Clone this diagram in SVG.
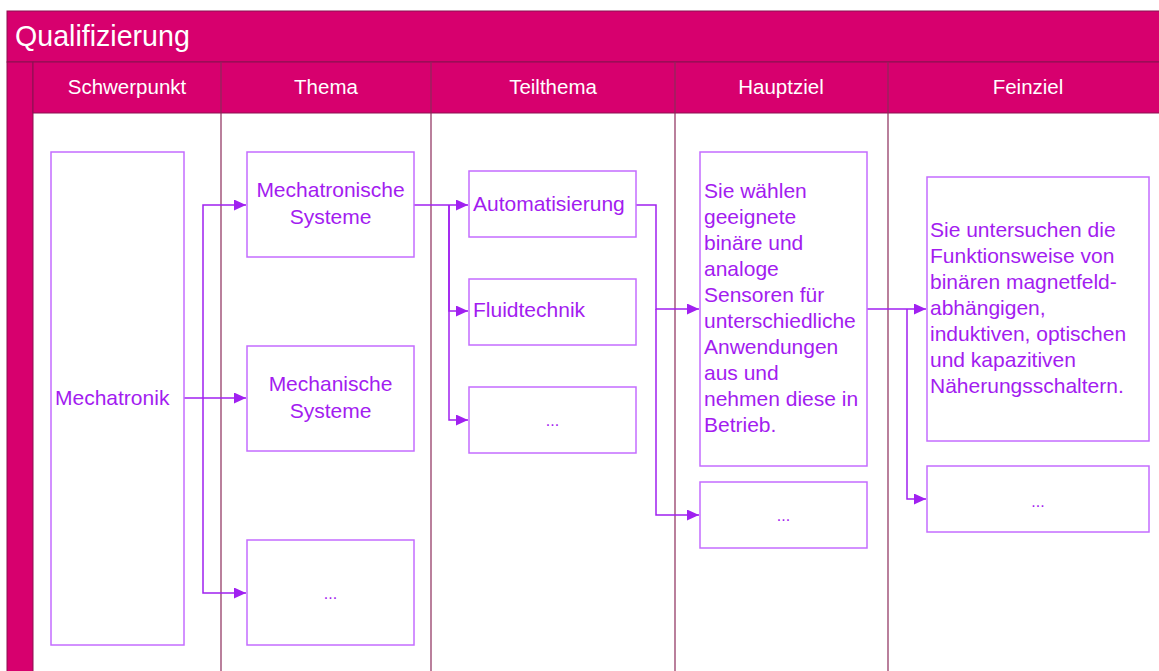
<svg xmlns="http://www.w3.org/2000/svg" width="1159" height="671" viewBox="0 0 1159 671">
<style>
.band{fill:#d7006e;stroke:#8a1050;stroke-width:1}
.div{stroke:#8b2a5a;stroke-width:1.2;fill:none}
.ttl{font-family:"Liberation Sans",Arial,sans-serif;font-size:28.6px;fill:#ffffff}
.hdr{font-family:"Liberation Sans",Arial,sans-serif;font-size:20.5px;fill:#ffffff;text-anchor:middle}
.box{fill:#ffffff;stroke:#c46cff;stroke-width:1.5}
.t{font-family:"Liberation Sans",Arial,sans-serif;font-size:21px;fill:#a31cf0}
.c{text-anchor:middle}
.dots{font-size:16px}
.con{fill:none;stroke:#a020f0;stroke-width:1.5}
</style>
<defs>
<marker id="ah" viewBox="0 0 12 11" refX="12" refY="5.5" markerWidth="12" markerHeight="11" markerUnits="userSpaceOnUse" orient="auto">
<path d="M0,0 L12,5.5 L0,11 z" fill="#a020f0"/>
</marker>
</defs>
<rect width="1159" height="671" fill="#ffffff"/>
<g id="frame">
<rect class="band" x="7" y="11" width="1160" height="51"/>
<rect class="band" x="7" y="62" width="26" height="620"/>
<rect class="band" x="33" y="62" width="1130" height="51"/>
<line class="div" x1="221" y1="62" x2="221" y2="671"/>
<line class="div" x1="431" y1="62" x2="431" y2="671"/>
<line class="div" x1="675" y1="62" x2="675" y2="671"/>
<line class="div" x1="888" y1="62" x2="888" y2="671"/>
<text class="ttl" x="15" y="46">Qualifizierung</text>
<text class="hdr" x="127" y="94">Schwerpunkt</text>
<text class="hdr" x="326" y="94">Thema</text>
<text class="hdr" x="553" y="94">Teilthema</text>
<text class="hdr" x="781" y="94">Hauptziel</text>
<text class="hdr" x="1028" y="94">Feinziel</text>
</g>
<g id="connectors">
<path class="con" d="M184,398 H246" marker-end="url(#ah)"/>
<path class="con" d="M203,398 V205 H246" marker-end="url(#ah)"/>
<path class="con" d="M203,398 V593 H246" marker-end="url(#ah)"/>
<path class="con" d="M414,205 H468" marker-end="url(#ah)"/>
<path class="con" d="M449,205 V311 H468" marker-end="url(#ah)"/>
<path class="con" d="M449,205 V420 H468" marker-end="url(#ah)"/>
<path class="con" d="M636,205 H656 V309 H699" marker-end="url(#ah)"/>
<path class="con" d="M656,309 V515 H699" marker-end="url(#ah)"/>
<path class="con" d="M867,309 H926" marker-end="url(#ah)"/>
<path class="con" d="M907,309 V499 H926" marker-end="url(#ah)"/>
</g>
<g id="n-mechatronik">
<rect class="box" x="51" y="152" width="133" height="493"/>
<text class="t" x="55" y="405">Mechatronik</text>
</g>
<g id="n-mechatronische-systeme">
<rect class="box" x="247" y="152" width="167" height="105"/>
<text class="t c" x="330.5" y="197">Mechatronische</text>
<text class="t c" x="330.5" y="224">Systeme</text>
</g>
<g id="n-mechanische-systeme">
<rect class="box" x="247" y="346" width="167" height="105"/>
<text class="t c" x="330.5" y="391">Mechanische</text>
<text class="t c" x="330.5" y="418">Systeme</text>
</g>
<g id="n-thema-more">
<rect class="box" x="247" y="540" width="167" height="105"/>
<text class="t c dots" x="330.5" y="599">...</text>
</g>
<g id="n-automatisierung">
<rect class="box" x="469" y="171" width="167" height="66"/>
<text class="t" x="473" y="211">Automatisierung</text>
</g>
<g id="n-fluidtechnik">
<rect class="box" x="469" y="279" width="167" height="66"/>
<text class="t" x="473" y="317">Fluidtechnik</text>
</g>
<g id="n-teilthema-more">
<rect class="box" x="469" y="387" width="167" height="66"/>
<text class="t c dots" x="552.5" y="426">...</text>
</g>
<g id="n-hauptziel">
<rect class="box" x="700" y="152" width="167" height="314"/>
<text class="t" x="704" y="198">Sie wählen</text>
<text class="t" x="704" y="224">geeignete</text>
<text class="t" x="704" y="250">binäre und</text>
<text class="t" x="704" y="276">analoge</text>
<text class="t" x="704" y="302">Sensoren für</text>
<text class="t" x="704" y="328">unterschiedliche</text>
<text class="t" x="704" y="354">Anwendungen</text>
<text class="t" x="704" y="380">aus und</text>
<text class="t" x="704" y="406">nehmen diese in</text>
<text class="t" x="704" y="432">Betrieb.</text>
</g>
<g id="n-hauptziel-more">
<rect class="box" x="700" y="482" width="167" height="66"/>
<text class="t c dots" x="783.5" y="521">...</text>
</g>
<g id="n-feinziel">
<rect class="box" x="927" y="177" width="222" height="264"/>
<text class="t" x="930" y="237">Sie untersuchen die</text>
<text class="t" x="930" y="263">Funktionsweise von</text>
<text class="t" x="930" y="289">binären magnetfeld-</text>
<text class="t" x="930" y="315">abhängigen,</text>
<text class="t" x="930" y="341">induktiven, optischen</text>
<text class="t" x="930" y="367">und kapazitiven</text>
<text class="t" x="930" y="393">Näherungsschaltern.</text>
</g>
<g id="n-feinziel-more">
<rect class="box" x="927" y="466" width="222" height="66"/>
<text class="t c dots" x="1038" y="507">...</text>
</g>
</svg>
